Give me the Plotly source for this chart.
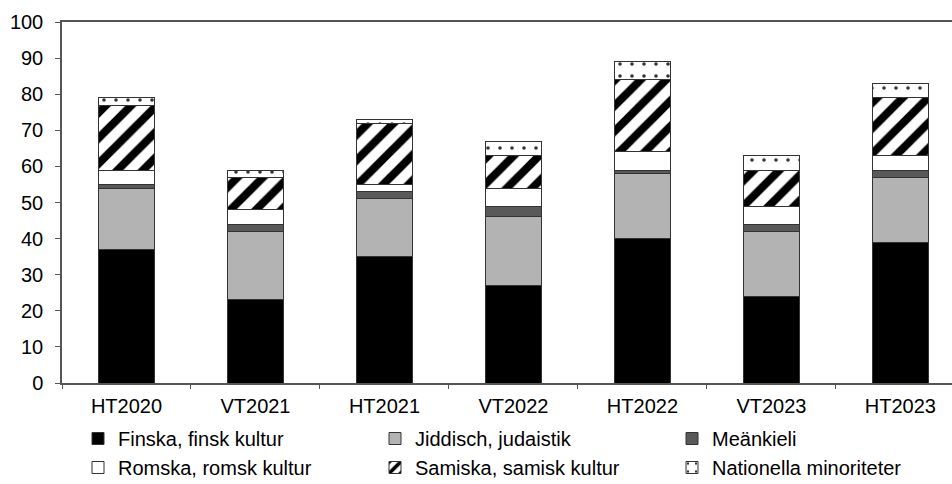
import plotly.graph_objects as go

categories = ["HT2020", "VT2021", "HT2021", "VT2022", "HT2022", "VT2023", "HT2023"]
finska = [37, 23, 35, 27, 40, 24, 39]
jiddisch = [17, 19, 16, 19, 18, 18, 18]
meankieli = [1, 2, 2, 3, 1, 2, 2]
romska = [4, 4, 2, 5, 5, 5, 4]
samiska = [18, 9, 17, 9, 20, 10, 16]
nationella = [2, 2, 1, 4, 5, 4, 4]

series = [
    ("Finska, finsk kultur", finska, dict(color="#000000")),
    ("Jiddisch, judaistik", jiddisch, dict(color="#b3b3b3")),
    ("Meänkieli", meankieli, dict(color="#595959")),
    ("Romska, romsk kultur", romska, dict(color="#ffffff")),
    ("Samiska, samisk kultur", samiska,
     dict(color="#ffffff", pattern=dict(shape="/", fgcolor="#000000", bgcolor="#ffffff",
                                         fgopacity=1, size=18, solidity=0.45,
                                         fillmode="overlay"))),
    ("Nationella minoriteter", nationella,
     dict(color="#ffffff", pattern=dict(shape=".", fgcolor="#333333", bgcolor="#ffffff",
                                         fgopacity=1, size=12, solidity=0.07,
                                         fillmode="overlay"))),
]

fig = go.Figure()
for name, vals, mk in series:
    mk = dict(mk)
    mk["line"] = dict(color="#333333", width=1)
    fig.add_trace(go.Bar(x=categories, y=vals, name=name, marker=mk))

font = dict(family="Liberation Sans, Arial, sans-serif", size=20, color="#000000")

fig.update_layout(
    width=952, height=484,
    margin=dict(l=62, r=0, t=22, b=101),
    barmode="stack",
    bargap=0.566,
    plot_bgcolor="#ffffff",
    paper_bgcolor="#ffffff",
    font=font,
    showlegend=True,
    legend=dict(
        orientation="h",
        xref="container", yref="container",
        x=78 / 952, y=1 - 419 / 484, xanchor="left", yanchor="top",
        entrywidth=252, entrywidthmode="pixels",
        traceorder="normal",
        font=font,
        itemclick=False,
        bgcolor="rgba(0,0,0,0)", borderwidth=0,
        tracegroupgap=0,
    ),
    xaxis=dict(
        type="category",
        range=[-0.5, 6.4],
        showline=True, linecolor="#555555", linewidth=1.5,
        mirror=True,
        ticks="outside", ticklen=4, tickcolor="#555555", tickwidth=1.2,
        tickson="boundaries",
        showgrid=False,
        ticklabelstandoff=4,
        tickfont=font,
    ),
    xaxis2=dict(
        overlaying="x", anchor="y",
        range=[-0.5, 6.4],
        tickvals=[0.5, 1.5, 2.5, 3.5, 4.5, 5.5],
        ticks="inside", ticklen=4, tickcolor="#555555", tickwidth=1.2,
        showticklabels=False, showgrid=False, showline=False, zeroline=False,
        side="bottom",
    ),
    yaxis=dict(
        range=[0, 100], dtick=10,
        showline=True, linecolor="#555555", linewidth=1.5,
        ticks="outside", ticklen=5, tickcolor="#555555", tickwidth=1.2,
        showgrid=False, zeroline=False,
        ticklabelstandoff=8,
        tickfont=font,
    ),
)

fig.write_html("out.html", config={"displayModeBar": False},
               post_script="document.body.style.margin='0px';")
